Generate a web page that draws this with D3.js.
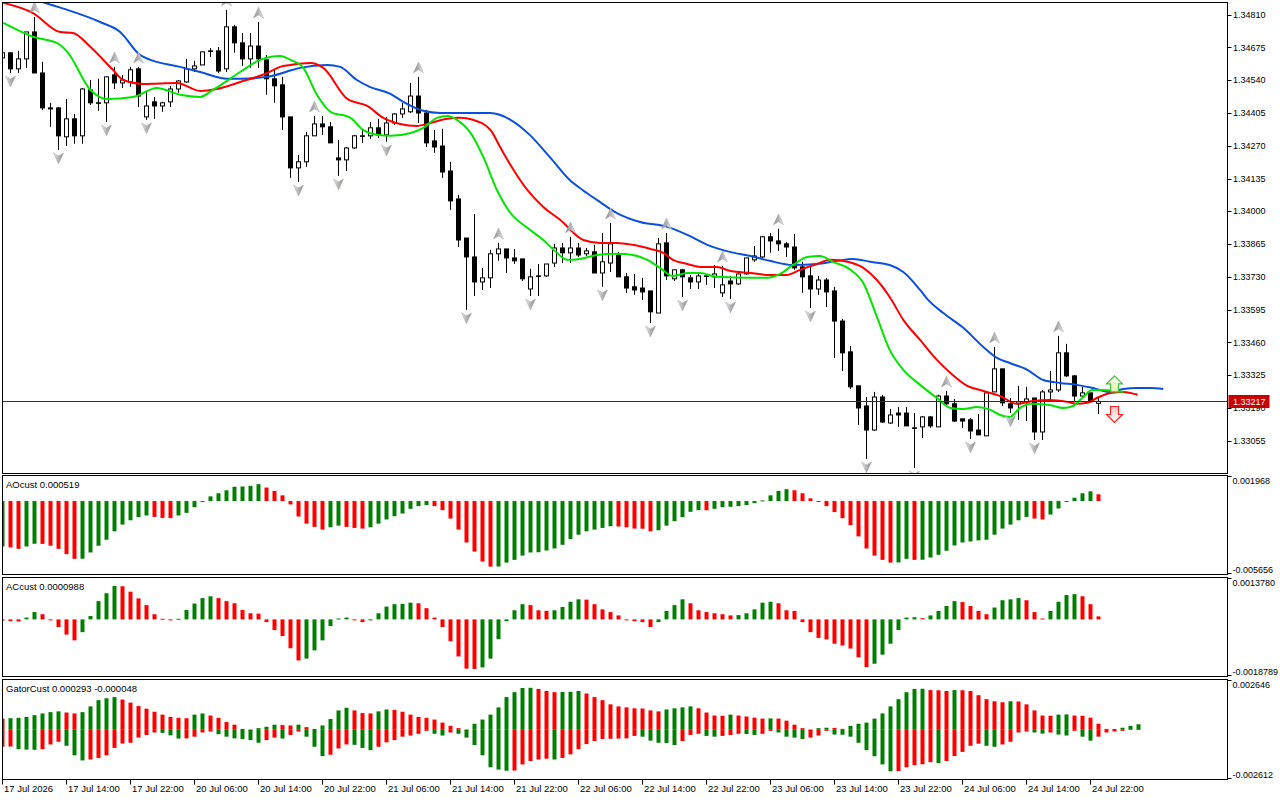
<!DOCTYPE html>
<html>
<head>
<meta charset="utf-8">
<script src="https://d3js.org/d3.v7.min.js"></script>
<style>
  body { margin:0; background:#fff; }
  svg { display:block; }
  text { font-family: Tahoma, "Liberation Sans", Arial, sans-serif; font-size:9.5px; fill:#000; }
  text.axis { font-size:9px; }
</style>
</head>
<body>
<svg id="chart" width="1280" height="800"></svg>
<script>

// ---- price data (H1 bars, index 0 = 17 Jul 2026 06:00) ----
var openP = [1.34632,1.34653,1.34587,1.34628,1.34739,1.34570,1.34426,1.34426,1.34307,1.34381,
  1.34311,1.34500,1.34447,1.34447,1.34562,1.34529,1.34533,1.34587,1.34389,1.34451,
  1.34434,1.34451,1.34504,1.34533,1.34587,1.34603,1.34661,1.34661,1.34587,1.34760,
  1.34694,1.34628,1.34681,1.34624,1.34546,1.34521,1.34389,1.34179,1.34204,1.34311,
  1.34360,1.34348,1.34220,1.34212,1.34261,1.34311,1.34311,1.34344,1.34315,1.34364,
  1.34401,1.34410,1.34475,1.34405,1.34290,1.34269,1.34166,1.34051,1.33890,1.33812,
  1.33709,1.33726,1.33825,1.33845,1.33808,1.33804,1.33680,1.33734,1.33734,1.33787,
  1.33849,1.33829,1.33849,1.33825,1.33833,1.33746,1.33787,1.33820,1.33730,1.33689,
  1.33684,1.33672,1.33581,1.33870,1.33722,1.33759,1.33726,1.33709,1.33734,1.33730,
  1.33664,1.33713,1.33701,1.33742,1.33800,1.33812,1.33895,1.33878,1.33866,1.33853,
  1.33771,1.33734,1.33680,1.33717,1.33672,1.33548,1.33421,1.33281,1.33198,1.33099,
  1.33235,1.33128,1.33169,1.33169,1.33108,1.33112,1.33153,1.33112,1.33239,1.33207,
  1.33145,1.33141,1.33099,1.33075,1.33256,1.33351,1.33207,1.33207,1.33215,1.33231,
  1.33091,1.33256,1.33264,1.33417,1.33322,1.33239,1.33252,1.33209];
var highP = [1.34661,1.34653,1.34661,1.34739,1.34801,1.34616,1.34447,1.34430,1.34463,1.34401,
  1.34508,1.34541,1.34546,1.34554,1.34595,1.34562,1.34595,1.34595,1.34492,1.34471,
  1.34451,1.34517,1.34541,1.34628,1.34620,1.34657,1.34673,1.34677,1.34830,1.34768,
  1.34735,1.34735,1.34780,1.34644,1.34583,1.34554,1.34389,1.34232,1.34327,1.34393,
  1.34393,1.34368,1.34294,1.34265,1.34315,1.34335,1.34368,1.34381,1.34389,1.34405,
  1.34447,1.34529,1.34554,1.34418,1.34335,1.34340,1.34204,1.34068,1.33890,1.33989,
  1.33767,1.33841,1.33870,1.33845,1.33845,1.33804,1.33763,1.33783,1.33783,1.33866,
  1.33870,1.33895,1.33870,1.33849,1.33862,1.33911,1.33952,1.33833,1.33746,1.33742,
  1.33726,1.33672,1.33890,1.33911,1.33759,1.33763,1.33738,1.33750,1.33738,1.33779,
  1.33775,1.33734,1.33750,1.33808,1.33857,1.33899,1.33911,1.33928,1.33874,1.33907,
  1.33792,1.33771,1.33734,1.33726,1.33689,1.33557,1.33445,1.33281,1.33235,1.33256,
  1.33244,1.33186,1.33194,1.33194,1.33169,1.33157,1.33157,1.33244,1.33260,1.33227,
  1.33145,1.33149,1.33165,1.33252,1.33441,1.33351,1.33231,1.33281,1.33277,1.33231,
  1.33264,1.33342,1.33487,1.33454,1.33326,1.33277,1.33252,1.33231];
var lowP = [1.34616,1.34570,1.34570,1.34591,1.34570,1.34418,1.34348,1.34253,1.34269,1.34278,
  1.34278,1.34438,1.34414,1.34368,1.34504,1.34508,1.34513,1.34430,1.34377,1.34381,
  1.34410,1.34430,1.34488,1.34529,1.34574,1.34603,1.34636,1.34570,1.34574,1.34653,
  1.34599,1.34591,1.34591,1.34480,1.34447,1.34335,1.34138,1.34121,1.34183,1.34311,
  1.34315,1.34282,1.34146,1.34166,1.34257,1.34282,1.34298,1.34302,1.34286,1.34356,
  1.34385,1.34405,1.34364,1.34265,1.34241,1.34138,1.34006,1.33853,1.33594,1.33651,
  1.33676,1.33684,1.33796,1.33746,1.33783,1.33713,1.33651,1.33651,1.33730,1.33771,
  1.33787,1.33787,1.33812,1.33816,1.33746,1.33689,1.33750,1.33730,1.33664,1.33656,
  1.33635,1.33540,1.33581,1.33717,1.33713,1.33647,1.33680,1.33680,1.33697,1.33684,
  1.33647,1.33639,1.33697,1.33738,1.33792,1.33808,1.33829,1.33837,1.33812,1.33759,
  1.33664,1.33602,1.33656,1.33606,1.33396,1.33342,1.33268,1.33120,1.32980,1.33095,
  1.33128,1.33124,1.33112,1.33116,1.32943,1.33066,1.33108,1.33112,1.33198,1.33132,
  1.33108,1.33062,1.33079,1.33075,1.33256,1.33198,1.33169,1.33141,1.33136,1.33058,
  1.33058,1.33215,1.33256,1.33318,1.33215,1.33235,1.33215,1.33165];
var closeP = [1.34653,1.34587,1.34628,1.34739,1.34570,1.34426,1.34422,1.34311,1.34381,1.34311,
  1.34504,1.34447,1.34445,1.34554,1.34529,1.34541,1.34583,1.34475,1.34434,1.34434,
  1.34447,1.34504,1.34537,1.34587,1.34599,1.34657,1.34659,1.34578,1.34760,1.34694,
  1.34628,1.34681,1.34628,1.34546,1.34517,1.34389,1.34179,1.34204,1.34311,1.34360,
  1.34348,1.34282,1.34212,1.34261,1.34311,1.34309,1.34344,1.34315,1.34364,1.34401,
  1.34422,1.34475,1.34405,1.34282,1.34265,1.34162,1.34043,1.33882,1.33812,1.33709,
  1.33726,1.33825,1.33845,1.33808,1.33796,1.33722,1.33730,1.33732,1.33783,1.33849,
  1.33829,1.33849,1.33820,1.33837,1.33746,1.33792,1.33866,1.33730,1.33684,1.33676,
  1.33668,1.33586,1.33866,1.33734,1.33759,1.33730,1.33709,1.33734,1.33732,1.33742,
  1.33697,1.33701,1.33742,1.33808,1.33816,1.33895,1.33878,1.33866,1.33853,1.33767,
  1.33730,1.33680,1.33717,1.33668,1.33548,1.33417,1.33277,1.33190,1.33099,1.33235,
  1.33132,1.33161,1.33161,1.33116,1.33106,1.33153,1.33116,1.33239,1.33207,1.33136,
  1.33136,1.33095,1.33079,1.33252,1.33351,1.33211,1.33190,1.33215,1.33227,1.33091,
  1.33256,1.33264,1.33417,1.33322,1.33239,1.33252,1.33215,1.33217];

// fractal bars
var fractalUp = [4,14,17,28,32,39,52,62,71,76,83,90,97,118,124,132];
var fractalDown = [1,7,13,18,37,42,48,58,66,75,81,85,91,101,108,114,121,126,129];

// alligator lines, [bar, price] (already shifted forward)
var jawLine = [[2.2,1.34896],[5.3,1.34859],[8.1,1.34830],[12.2,1.34780],[14.7,1.34739],[17.2,1.34644],[18.5,1.34624],[22.2,1.34595],[24.7,1.34574],[28.1,1.34546],[29.7,1.34546],[33.1,1.34554],[36.3,1.34583],[37.2,1.34591],[40.6,1.34603],[42.2,1.34595],[44.3,1.34541],[45.9,1.34513],[48.5,1.34484],[50.1,1.34451],[52.6,1.34414],[54.7,1.34405],[58.5,1.34405],[61.0,1.34405],[63.5,1.34377],[65.9,1.34315],[68.5,1.34220],[70.9,1.34129],[72.5,1.34088],[74.3,1.34047],[76.8,1.33993],[79.7,1.33956],[83.1,1.33936],[85.6,1.33903],[88.1,1.33862],[90.9,1.33833],[93.5,1.33816],[95.9,1.33796],[98.8,1.33779],[101.8,1.33783],[104.3,1.33796],[106.3,1.33804],[108.5,1.33792],[110.9,1.33779],[112.6,1.33750],[114.7,1.33676],[115.7,1.33635],[117.6,1.33581],[120.1,1.33520],[122.6,1.33441],[124.3,1.33396],[125.9,1.33375],[128.1,1.33347],[130.1,1.33305],[132.2,1.33293],[134.3,1.33285],[136.3,1.33272],[138.5,1.33256],[140.1,1.33268],[141.8,1.33272],[143.5,1.33272],[145.1,1.33268]];
var teethLine = [[0.1,1.34859],[3.8,1.34817],[7.2,1.34739],[8.8,1.34735],[11.0,1.34677],[13.8,1.34583],[15.1,1.34541],[17.6,1.34525],[21.8,1.34529],[24.7,1.34496],[26.8,1.34504],[29.7,1.34533],[33.1,1.34570],[34.7,1.34595],[36.0,1.34603],[38.5,1.34611],[40.1,1.34591],[43.1,1.34463],[45.6,1.34434],[47.6,1.34385],[49.7,1.34360],[51.8,1.34352],[53.5,1.34364],[55.6,1.34381],[57.2,1.34385],[58.8,1.34377],[61.0,1.34335],[62.2,1.34265],[63.5,1.34191],[65.6,1.34088],[67.6,1.34018],[69.7,1.33965],[72.6,1.33882],[74.7,1.33870],[76.8,1.33870],[78.8,1.33862],[81.0,1.33845],[82.6,1.33829],[83.8,1.33800],[85.6,1.33783],[87.2,1.33771],[89.3,1.33771],[90.9,1.33755],[93.5,1.33746],[95.9,1.33738],[98.1,1.33738],[99.7,1.33759],[101.8,1.33783],[103.5,1.33800],[105.6,1.33792],[107.6,1.33767],[109.3,1.33717],[110.9,1.33647],[112.6,1.33553],[114.7,1.33470],[116.8,1.33388],[118.5,1.33334],[120.6,1.33281],[122.6,1.33260],[124.7,1.33239],[126.8,1.33207],[128.8,1.33219],[130.9,1.33223],[133.1,1.33215],[134.3,1.33207],[135.6,1.33211],[136.8,1.33231],[138.5,1.33252],[140.1,1.33256],[141.9,1.33244]];
var lipsLine = [[0.1,1.34776],[3.8,1.34719],[7.0,1.34690],[8.1,1.34657],[11.0,1.34500],[13.1,1.34463],[16.3,1.34471],[19.3,1.34508],[22.2,1.34480],[24.7,1.34471],[26.3,1.34500],[29.7,1.34574],[32.2,1.34624],[34.7,1.34640],[36.0,1.34624],[37.6,1.34591],[39.3,1.34480],[41.0,1.34410],[43.5,1.34385],[45.1,1.34335],[46.8,1.34315],[48.5,1.34311],[51.0,1.34323],[52.6,1.34344],[54.3,1.34385],[55.6,1.34393],[56.8,1.34377],[58.5,1.34323],[60.1,1.34224],[61.8,1.34088],[63.5,1.33993],[65.6,1.33932],[67.6,1.33882],[69.3,1.33829],[70.6,1.33800],[72.2,1.33804],[74.3,1.33820],[76.8,1.33825],[78.8,1.33820],[80.6,1.33800],[82.2,1.33767],[83.8,1.33734],[85.6,1.33746],[87.2,1.33746],[89.3,1.33730],[93.5,1.33726],[95.6,1.33726],[97.2,1.33742],[98.8,1.33779],[100.6,1.33812],[102.2,1.33816],[103.8,1.33792],[106.0,1.33759],[107.6,1.33705],[109.3,1.33565],[110.9,1.33429],[112.6,1.33347],[114.7,1.33285],[116.8,1.33231],[118.5,1.33190],[120.1,1.33186],[121.8,1.33194],[123.5,1.33182],[124.7,1.33161],[125.9,1.33153],[127.2,1.33190],[128.5,1.33207],[130.9,1.33202],[132.6,1.33190],[133.8,1.33198],[135.1,1.33235],[136.2,1.33264],[137.6,1.33264],[140.1,1.33256]];

// signal arrows at the end
var signalBars = [139, 139];
var signalPrices = [1.33289, 1.33163];
var signalTypes = ["buy", "sell"];

// oscillators
var aoValues = [-0.00350,-0.00357,-0.00368,-0.00350,-0.00329,-0.00330,-0.00344,-0.00368,-0.00409,-0.00445,
  -0.00444,-0.00396,-0.00344,-0.00298,-0.00233,-0.00181,-0.00148,-0.00124,-0.00111,-0.00122,
  -0.00130,-0.00131,-0.00111,-0.00091,-0.00047,-0.00008,0.00036,0.00060,0.00083,0.00110,
  0.00112,0.00117,0.00130,0.00104,0.00078,0.00044,-0.00026,-0.00119,-0.00174,-0.00199,
  -0.00220,-0.00202,-0.00189,-0.00199,-0.00207,-0.00212,-0.00202,-0.00174,-0.00142,-0.00117,
  -0.00096,-0.00060,-0.00039,-0.00031,-0.00039,-0.00070,-0.00135,-0.00220,-0.00319,-0.00389,
  -0.00466,-0.00505,-0.00504,-0.00474,-0.00453,-0.00420,-0.00396,-0.00394,-0.00381,-0.00365,
  -0.00337,-0.00293,-0.00259,-0.00233,-0.00220,-0.00207,-0.00194,-0.00196,-0.00202,-0.00212,
  -0.00213,-0.00233,-0.00225,-0.00189,-0.00155,-0.00124,-0.00083,-0.00070,-0.00071,-0.00060,
  -0.00047,-0.00044,-0.00039,-0.00031,-0.00016,0.00005,0.00044,0.00078,0.00091,0.00083,
  0.00060,0.00021,-0.00003,-0.00039,-0.00085,-0.00132,-0.00186,-0.00272,-0.00365,-0.00420,
  -0.00453,-0.00474,-0.00473,-0.00445,-0.00453,-0.00452,-0.00435,-0.00414,-0.00383,-0.00342,
  -0.00319,-0.00311,-0.00303,-0.00298,-0.00259,-0.00212,-0.00181,-0.00148,-0.00122,-0.00135,
  -0.00142,-0.00104,-0.00057,-0.00005,0.00026,0.00060,0.00075,0.000519];
var acValues = [-0.00004,-0.00006,-0.00007,0.00006,0.00024,0.00017,-0.00002,-0.00025,-0.00050,-0.00069,
  -0.00042,0.00011,0.00060,0.00086,0.00110,0.00109,0.00091,0.00069,0.00047,0.00017,
  0.00002,-0.00002,0.00002,0.00031,0.00052,0.00070,0.00076,0.00070,0.00060,0.00053,
  0.00031,0.00020,0.00019,-0.00009,-0.00035,-0.00055,-0.00095,-0.00135,-0.00129,-0.00102,
  -0.00069,-0.00022,0.00003,0.00006,-0.00002,-0.00009,-0.00002,0.00020,0.00042,0.00050,
  0.00051,0.00055,0.00053,0.00037,0.00006,-0.00025,-0.00072,-0.00122,-0.00162,-0.00163,
  -0.00158,-0.00129,-0.00065,-0.00006,0.00030,0.00050,0.00047,0.00030,0.00028,0.00030,
  0.00041,0.00058,0.00066,0.00065,0.00050,0.00033,0.00024,0.00013,-0.00003,-0.00006,
  -0.00009,-0.00025,-0.00009,0.00028,0.00047,0.00066,0.00053,0.00030,0.00024,0.00020,
  0.00017,0.00013,0.00014,0.00020,0.00033,0.00055,0.00058,0.00053,0.00030,0.00028,
  -0.00009,-0.00042,-0.00061,-0.00066,-0.00080,-0.00086,-0.00096,-0.00125,-0.00157,-0.00146,
  -0.00116,-0.00080,-0.00035,0.00006,0.00007,0.00004,0.00013,0.00028,0.00044,0.00060,
  0.00057,0.00044,0.00028,0.00017,0.00039,0.00063,0.00066,0.00070,0.00063,0.00024,
  0.00003,0.00028,0.00058,0.00080,0.00083,0.00076,0.00050,0.0000988];
var gatorUpper = [0.00059,0.00061,0.00063,0.00068,0.00077,0.00086,0.00093,0.00097,0.00091,0.00086,
  0.00093,0.00123,0.00156,0.00166,0.00172,0.00159,0.00143,0.00125,0.00111,0.00095,
  0.00080,0.00068,0.00063,0.00061,0.00080,0.00086,0.00075,0.00063,0.00041,0.00027,
  0.00004,0.00001,0.00009,0.00016,0.00027,0.00025,0.00023,0.00027,0.00014,0.00004,
  0.00023,0.00057,0.00102,0.00116,0.00102,0.00088,0.00086,0.00097,0.00107,0.00105,
  0.00095,0.00080,0.00068,0.00063,0.00054,0.00038,0.00021,0.00009,0.00001,0.00032,
  0.00054,0.00080,0.00118,0.00172,0.00198,0.00220,0.00221,0.00215,0.00204,0.00198,
  0.00199,0.00200,0.00204,0.00191,0.00172,0.00156,0.00134,0.00123,0.00118,0.00113,
  0.00112,0.00102,0.00097,0.00107,0.00113,0.00118,0.00123,0.00113,0.00091,0.00075,
  0.00074,0.00080,0.00075,0.00070,0.00064,0.00059,0.00060,0.00059,0.00048,0.00027,
  0.00009,0.00001,0.00009,0.00011,0.00010,0.00005,0.00021,0.00032,0.00038,0.00059,
  0.00086,0.00123,0.00161,0.00198,0.00215,0.00216,0.00209,0.00208,0.00204,0.00209,
  0.00208,0.00204,0.00182,0.00161,0.00150,0.00145,0.00150,0.00149,0.00134,0.00102,
  0.00075,0.00074,0.00080,0.00081,0.00075,0.00074,0.00064,0.00032,0.00005,0.00004,
  0.00011,0.00021,0.000293];
var gatorLower = [-0.00089,-0.00088,-0.00102,-0.00104,-0.00105,-0.00102,-0.00077,-0.00063,-0.00084,-0.00134,
  -0.00161,-0.00156,-0.00148,-0.00134,-0.00095,-0.00072,-0.00068,-0.00041,-0.00027,-0.00014,
  -0.00016,-0.00029,-0.00046,-0.00045,-0.00036,-0.00014,-0.00009,-0.00023,-0.00036,-0.00045,
  -0.00048,-0.00054,-0.00068,-0.00054,-0.00041,-0.00046,-0.00027,-0.00009,-0.00036,-0.00089,
  -0.00138,-0.00131,-0.00098,-0.00077,-0.00079,-0.00095,-0.00107,-0.00089,-0.00066,-0.00054,
  -0.00036,-0.00030,-0.00021,-0.00005,-0.00021,-0.00030,-0.00014,-0.00021,-0.00041,-0.00080,
  -0.00134,-0.00197,-0.00209,-0.00215,-0.00214,-0.00182,-0.00164,-0.00156,-0.00152,-0.00156,
  -0.00148,-0.00129,-0.00102,-0.00075,-0.00059,-0.00048,-0.00047,-0.00046,-0.00045,-0.00032,
  -0.00036,-0.00057,-0.00068,-0.00069,-0.00080,-0.00059,-0.00027,-0.00021,-0.00032,-0.00036,
  -0.00032,-0.00027,-0.00021,-0.00022,-0.00027,-0.00021,-0.00004,-0.00014,-0.00036,-0.00041,
  -0.00048,-0.00041,-0.00030,-0.00004,-0.00025,-0.00026,-0.00036,-0.00068,-0.00107,-0.00139,
  -0.00182,-0.00218,-0.00217,-0.00197,-0.00186,-0.00181,-0.00170,-0.00175,-0.00164,-0.00138,
  -0.00116,-0.00084,-0.00073,-0.00084,-0.00089,-0.00077,-0.00063,-0.00014,-0.00009,-0.00014,
  -0.00020,-0.00014,-0.00025,-0.00030,-0.00004,-0.00036,-0.00057,-0.00036,-0.00014,-0.00009,
  -0.000048];

// axes
var priceTicks = [1.34810,1.34675,1.34540,1.34405,1.34270,1.34135,1.34000,1.33865,1.33730,1.33595,1.33460,1.33325,1.33190,1.33055];
var priceRange = [1.329199, 1.348603];
var aoRange = [-0.005656, 0.001968];
var acRange = [-0.0018789, 0.0013780];
var gatorRange = [-0.002612, 0.002646];
var timeTickBars = [0,8,16,24,32,40,48,56,64,72,80,88,96,104,112,120,128,136];
var timeTickLabels = ["17 Jul 2026","17 Jul 14:00","17 Jul 22:00","20 Jul 06:00","20 Jul 14:00","20 Jul 22:00",
  "21 Jul 06:00","21 Jul 14:00","21 Jul 22:00","22 Jul 06:00","22 Jul 14:00","22 Jul 22:00",
  "23 Jul 06:00","23 Jul 14:00","23 Jul 22:00","24 Jul 06:00","24 Jul 14:00","24 Jul 22:00"];

var GREEN = "#008000", RED = "#ff0000";
var svg = d3.select("#chart");
var left = 2.5, right = 1227.5;
var panes = {
  main:  [2.5, 473.5],
  ao:    [475.5, 574.5],
  ac:    [577.5, 676.5],
  gator: [679.5, 779.5]
};

var x = d3.scaleLinear().domain([0, 152]).range([2, 1218]);   // 8 px per bar
var yMain = d3.scaleLinear().domain(priceRange).range([panes.main[1], panes.main[0]]);
var yAO = d3.scaleLinear().domain(aoRange).range([panes.ao[1], panes.ao[0]]);
var yAC = d3.scaleLinear().domain(acRange).range([panes.ac[1], panes.ac[0]]);
var yGator = d3.scaleLinear().domain(gatorRange).range([panes.gator[1], panes.gator[0]]);

var defs = svg.append("defs");
Object.keys(panes).forEach(function(k) {
  defs.append("clipPath").attr("id", "clip-" + k)
    .append("rect")
      .attr("x", left).attr("y", panes[k][0])
      .attr("width", right - left).attr("height", panes[k][1] - panes[k][0]);
});
var fg = defs.append("linearGradient").attr("id", "fractGrad").attr("x1", 0).attr("x2", 1).attr("y1", 0).attr("y2", 0);
fg.append("stop").attr("offset", "0%").attr("stop-color", "#8c8c8c");
fg.append("stop").attr("offset", "50%").attr("stop-color", "#b4b4b8");
fg.append("stop").attr("offset", "100%").attr("stop-color", "#e8eaf2");
var bg = defs.append("linearGradient").attr("id", "buyGrad").attr("x1", 0).attr("x2", 0).attr("y1", 0).attr("y2", 1);
bg.append("stop").attr("offset", "0%").attr("stop-color", "#ffffff");
bg.append("stop").attr("offset", "100%").attr("stop-color", "#e0f4a8");
var sg = defs.append("linearGradient").attr("id", "sellGrad").attr("x1", 0).attr("x2", 0).attr("y1", 0).attr("y2", 1);
sg.append("stop").attr("offset", "0%").attr("stop-color", "#ffffff");
sg.append("stop").attr("offset", "100%").attr("stop-color", "#ffc8c8");

// ---- main pane ----
var gMain = svg.append("g").attr("clip-path", "url(#clip-main)");

var candles = d3.range(openP.length).map(function(i) {
  return {i: i, o: openP[i], h: highP[i], l: lowP[i], c: closeP[i]};
});

gMain.selectAll("line.wick").data(candles).join("line")
  .attr("class", "wick")
  .attr("x1", function(d) { return x(d.i) + 0.5; })
  .attr("x2", function(d) { return x(d.i) + 0.5; })
  .attr("y1", function(d) { return yMain(d.h); })
  .attr("y2", function(d) { return yMain(d.l); })
  .attr("stroke", "#000").attr("stroke-width", 1);

gMain.selectAll("rect.body").data(candles).join("rect")
  .attr("class", "body")
  .attr("x", function(d) { return x(d.i) - 1.5; })
  .attr("width", 4)
  .attr("y", function(d) { return yMain(Math.max(d.o, d.c)); })
  .attr("height", function(d) { return Math.max(0.3, Math.abs(yMain(d.o) - yMain(d.c))); })
  .attr("fill", function(d) { return d.c >= d.o ? "#fff" : "#000"; })
  .attr("stroke", "#000").attr("stroke-width", 1);

var lineGen = d3.line()
  .x(function(d) { return x(d[0]) + 0.5; })
  .y(function(d) { return yMain(d[1]); })
  .curve(d3.curveMonotoneX);

[[jawLine, "#0a50dc"], [teethLine, "#ff0000"], [lipsLine, "#00e600"]].forEach(function(s) {
  gMain.append("path").datum(s[0])
    .attr("d", lineGen)
    .attr("fill", "none").attr("stroke", s[1]).attr("stroke-width", 2);
});

// fractals
var upArrow = "M0,-6 L5,5 L0,2 L-5,5 Z";
gMain.selectAll("path.fup").data(fractalUp).join("path")
  .attr("class", "fup")
  .attr("d", upArrow)
  .attr("transform", function(i) { return "translate(" + (x(i) + 0.5) + "," + (yMain(highP[i]) - 9) + ")"; })
  .attr("fill", "url(#fractGrad)").attr("stroke", "#a8a8a8").attr("stroke-width", 0.5);
gMain.selectAll("path.fdn").data(fractalDown).join("path")
  .attr("class", "fdn")
  .attr("d", upArrow)
  .attr("transform", function(i) { return "translate(" + (x(i) + 0.5) + "," + (yMain(lowP[i]) + 8) + ") rotate(180)"; })
  .attr("fill", "url(#fractGrad)").attr("stroke", "#a8a8a8").attr("stroke-width", 0.5);

// signal block arrows
var blockArrow = "M0,-8 L8,0 L4,0 L4,8 L-4,8 L-4,0 L-8,0 Z";
gMain.selectAll("path.signal").data(signalBars).join("path")
  .attr("class", "signal")
  .attr("d", blockArrow)
  .attr("transform", function(b, k) {
    return "translate(" + (x(b) + 0.5) + "," + yMain(signalPrices[k]) + ")" + (signalTypes[k] === "sell" ? " rotate(180)" : "");
  })
  .attr("fill", function(b, k) { return signalTypes[k] === "buy" ? "url(#buyGrad)" : "url(#sellGrad)"; })
  .attr("stroke", function(b, k) { return signalTypes[k] === "buy" ? "#3cc23c" : "#ff2020"; })
  .attr("stroke-width", 1.2);

// current price line
var lastPrice = closeP[closeP.length - 1];
var yLast = Math.round(yMain(lastPrice)) + 0.5;
svg.append("line")
  .attr("x1", left).attr("x2", right).attr("y1", yLast).attr("y2", yLast)
  .attr("stroke", "#a00000").attr("stroke-width", 1);

// price axis
var pAxis = svg.append("g");
pAxis.selectAll("line").data(priceTicks).join("line")
  .attr("x1", right).attr("x2", right + 4)
  .attr("y1", function(d) { return Math.round(yMain(d)) + 0.5; })
  .attr("y2", function(d) { return Math.round(yMain(d)) + 0.5; })
  .attr("stroke", "#000");
pAxis.selectAll("text").data(priceTicks).join("text")
  .attr("class", "axis")
  .attr("x", right + 5.5)
  .attr("y", function(d) { return yMain(d); })
  .attr("dy", "0.35em")
  .text(function(d) { return d.toFixed(5); });

svg.append("rect")
  .attr("x", right + 1).attr("y", yLast - 6.5).attr("width", 41).attr("height", 13)
  .attr("fill", "#c80000");
svg.append("text")
  .attr("class", "axis")
  .attr("x", right + 5.5).attr("y", yLast).attr("dy", "0.35em")
  .style("fill", "#fff")
  .text(lastPrice.toFixed(5));

// ---- oscillator panes ----
function histogram(pane, y, vals, first, absCompare) {
  var g = svg.append("g").attr("clip-path", "url(#clip-" + pane + ")");
  var data = vals.map(function(v, i) { return {i: i, v: v}; });
  g.selectAll("rect").data(data).join("rect")
    .attr("x", function(d) { return x(d.i) - 1.5; })
    .attr("width", 4)
    .attr("y", function(d) { return Math.min(y(0), y(d.v)); })
    .attr("height", function(d) { return Math.max(1, Math.abs(y(d.v) - y(0))); })
    .attr("fill", function(d) {
      if (d.i === 0) return first;
      var cur = vals[d.i], prev = vals[d.i - 1];
      if (absCompare) { cur = Math.abs(cur); prev = Math.abs(prev); }
      return cur > prev ? GREEN : RED;
    });
}

histogram("ao", yAO, aoValues, GREEN, false);
histogram("ac", yAC, acValues, RED, false);
histogram("gator", yGator, gatorUpper, RED, true);
histogram("gator", yGator, gatorLower, RED, true);

// pane frames
Object.keys(panes).forEach(function(k) {
  svg.append("rect")
    .attr("x", left).attr("y", panes[k][0])
    .attr("width", right - left).attr("height", panes[k][1] - panes[k][0])
    .attr("fill", "none").attr("stroke", "#000").attr("stroke-width", 1);
});

// pane titles
var titles = [
  ["ao", "AOcust " + aoValues[aoValues.length - 1].toFixed(6)],
  ["ac", "ACcust " + acValues[acValues.length - 1].toFixed(7)],
  ["gator", "GatorCust " + gatorUpper[gatorUpper.length - 1].toFixed(6) + " " + gatorLower[gatorLower.length - 1].toFixed(6)]
];
titles.forEach(function(t) {
  svg.append("text").attr("x", 6).attr("y", panes[t[0]][0] + 9).attr("dy", "0.35em").text(t[1]);
});

// oscillator scale labels
[["ao", aoRange, 6], ["ac", acRange, 7], ["gator", gatorRange, 6]].forEach(function(s) {
  var top = panes[s[0]][0], bot = panes[s[0]][1];
  svg.append("line").attr("x1", right).attr("x2", right + 4).attr("y1", top + 1).attr("y2", top + 1).attr("stroke", "#000");
  svg.append("line").attr("x1", right).attr("x2", right + 4).attr("y1", bot - 1).attr("y2", bot - 1).attr("stroke", "#000");
  svg.append("text").attr("class", "axis").attr("x", right + 5).attr("y", top + 5).attr("dy", "0.35em").text(s[1][1].toFixed(s[2]));
  svg.append("text").attr("class", "axis").attr("x", right + 5).attr("y", bot - 5).attr("dy", "0.35em").text(s[1][0].toFixed(s[2]));
});

// time axis
var tAxis = svg.append("g");
tAxis.selectAll("line").data(timeTickBars).join("line")
  .attr("x1", function(d) { return x(d) + 0.5; })
  .attr("x2", function(d) { return x(d) + 0.5; })
  .attr("y1", panes.gator[1]).attr("y2", panes.gator[1] + 5)
  .attr("stroke", "#000");
tAxis.selectAll("text").data(timeTickBars).join("text")
  .attr("x", function(d) { return x(d) + 2; })
  .attr("y", 788.5).attr("dy", "0.35em")
  .text(function(d, k) { return timeTickLabels[k]; });

</script>
</body>
</html>
